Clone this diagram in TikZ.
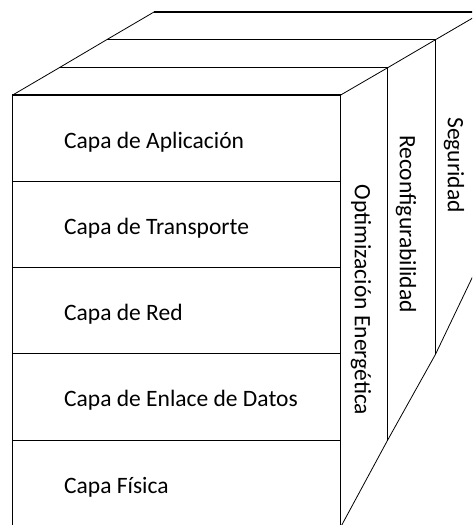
\documentclass[tikz,border=0pt]{standalone}
\usepackage{fontspec}
\setmainfont{Carlito}
\begin{document}
\begin{tikzpicture}[x=1pt,y=-1pt,
  edge/.style={line width=1.5pt},
  slant/.style={line width=0.8pt},
  layertext/.style={anchor=base west,inner sep=0pt,font=\fontsize{23.5}{26}\selectfont},
  sidetext/.style={rotate=-90,inner sep=0pt,font=\fontsize{23.5}{26}\selectfont}]
\useasboundingbox (0,0) rectangle (472,525);
\clip (0,0) rectangle (472,525);
% corners
\coordinate (F1) at (12.7,95);
\coordinate (F2) at (340.7,95);
\coordinate (F3) at (340.7,527);
\coordinate (F4) at (12.7,527);
\coordinate (A1) at (59.3,67.7);
\coordinate (A2) at (387.7,67.7);
\coordinate (A3) at (387.7,440);
\coordinate (B1) at (106.7,39.7);
\coordinate (B2) at (435.5,39.7);
\coordinate (B3) at (435.5,354.3);
\coordinate (C1) at (154,12);
\coordinate (C2) at (483,12);
\coordinate (C3) at (483,255);
% layer separators
\coordinate (L1a) at (12.7,181.7); \coordinate (L1b) at (340.7,181.7);
\coordinate (L2a) at (12.7,267.7); \coordinate (L2b) at (340.7,267.7);
\coordinate (L3a) at (12.7,353.3); \coordinate (L3b) at (340.7,353.3);
\coordinate (L4a) at (12.7,440.7); \coordinate (L4b) at (340.7,440.7);
% front face
\draw[edge] (F1) rectangle (F3);
\draw[edge] (L1a) -- (L1b);
\draw[edge] (L2a) -- (L2b);
\draw[edge] (L3a) -- (L3b);
\draw[edge] (L4a) -- (L4b);
% slabs
\draw[edge] (A1) -- (A2) -- (A3);
\draw[edge] (B1) -- (B2) -- (B3);
\draw[edge] (C1) -- (C2) -- (C3);
% slanted edges
\draw[slant] (F1) -- (A1) -- (B1) -- (C1);
\draw[slant] (F2) -- (A2) -- (B2) -- (C2);
\draw[slant] (F3) -- (A3) -- (B3) -- (C3);
% texts
\node[layertext] (app) at (64,148.3) {Capa de Aplicación};
\node[layertext] (tra) at (64,234.3) {Capa de Transporte};
\node[layertext] (red) at (64,320.3) {Capa de Red};
\node[layertext] (enl) at (64,406.8) {Capa de Enlace de Datos};
\node[layertext] (fis) at (64,493) {Capa Física};
\node[sidetext] (opt) at (361,300) {Optimización Energética};
\node[sidetext] (rec) at (406,224) {Reconfigurabilidad};
\node[sidetext] (seg) at (454,165) {Seguridad};
\end{tikzpicture}
\end{document}
